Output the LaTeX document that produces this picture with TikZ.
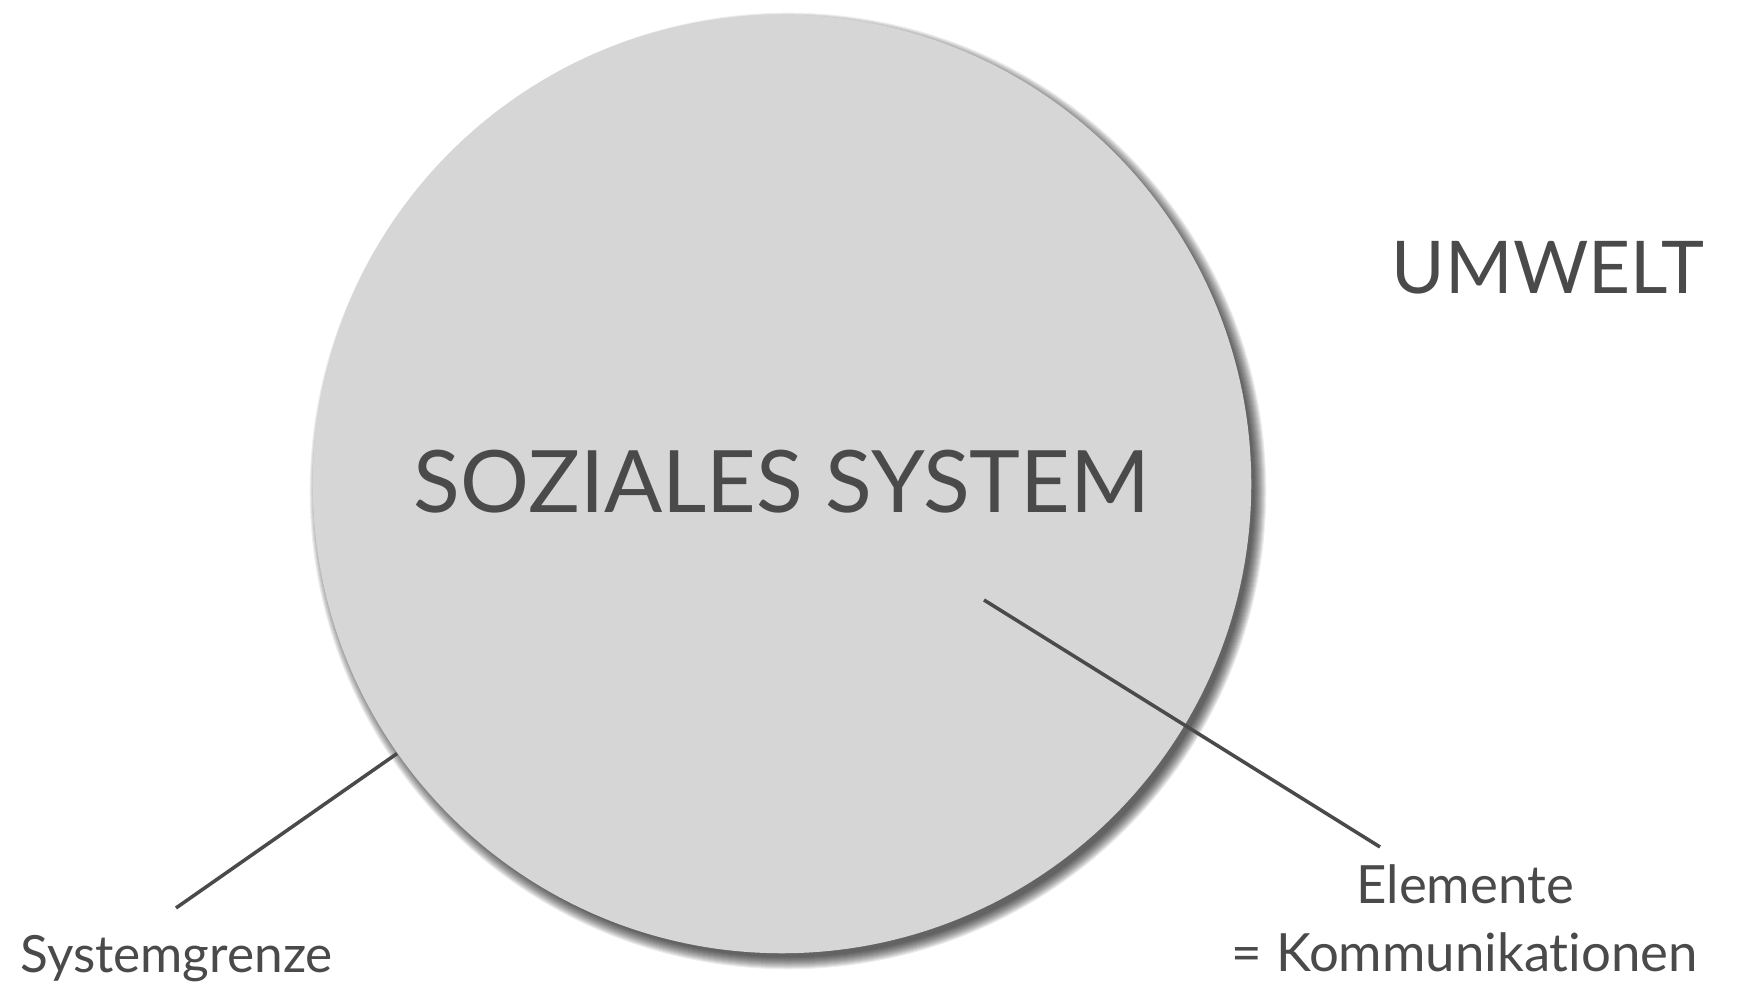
\documentclass[tikz,border=0pt]{standalone}
\usepackage{fontspec}
\setmainfont{Lato}[Ligatures=NoCommon]
\usepackage{tikz}

\definecolor{ink}{HTML}{4A4A4A}
\definecolor{disc}{HTML}{D6D6D6}

\begin{document}
\begin{tikzpicture}[x=0.01cm, y=-0.01cm]
    \useasboundingbox (0,0) rectangle (1738,986);
    \coordinate (S0) at (788,491);
    \foreach \r in {-3,...,9}
        \fill[black, opacity=0.07] (S0) circle[radius=4.69cm+\r*0.01cm];
    \node[shape=circle, fill=disc, minimum size=9.38cm, inner sep=0pt] at (782,484) (SYS) {};
    \node[text=ink, font=\fontsize{24.5}{30}\selectfont] at (782,482) (T0) {SOZIALES SYSTEM};
    \node[text=ink, font=\fontsize{20.7}{27}\selectfont] at (1548,268) (T1) {UMWELT};
    \node[text=ink, font=\fontsize{14.6}{20}\selectfont, anchor=base west] at (8,973) (T2) {Systemgrenze};
    \node[text=ink, font=\fontsize{15}{19.6}\selectfont, align=center, anchor=base] at (1465,972) (T3) {Elemente\\= Kommunikationen};
    \coordinate (P0) at (176,908);
    \coordinate (P1) at (984,600);
    \coordinate (P2) at (1380,847);
    \path [draw=ink, line width=1pt] (P0) -- (SYS.215);
    \path [draw=ink, line width=1pt] (P1) -- (P2);
\end{tikzpicture}
\end{document}
